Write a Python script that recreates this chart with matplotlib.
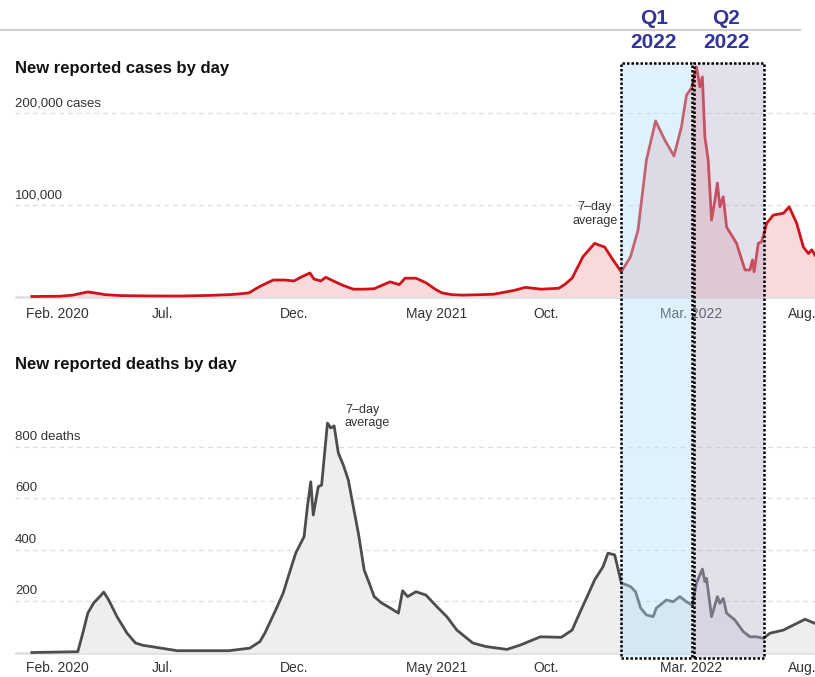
import numpy as np
import matplotlib
matplotlib.use("Agg")
import matplotlib.pyplot as plt
import matplotlib.dates as mdates
from matplotlib.patches import Rectangle
from matplotlib.lines import Line2D
from matplotlib.transforms import blended_transform_factory

plt.rcParams["font.family"] = ["Liberation Sans", "DejaVu Sans"]

# ---- data, days counted from 2020-02-01 ----
START = np.datetime64("2020-02-01")

case_days = [7, 41, 56, 74, 85, 95, 113, 150, 184, 220, 243, 255, 267, 280, 296,
             310, 321, 329, 340, 345, 353, 359, 368, 380, 392, 405, 417, 436, 447,
             454, 467, 479, 490, 498, 510, 523, 545, 560, 575, 586, 598, 617, 638,
             645, 654, 667, 681, 693, 703, 713, 724, 733, 743, 754, 765, 776, 785,
             791, 797, 803, 807, 810, 813, 817, 821, 825, 828, 831, 835, 839, 851,
             861, 867, 870, 872, 877, 881, 887, 895, 907, 914, 923, 931, 937, 941, 945]
case_vals = [0, 300, 1500, 5000, 3500, 2000, 1000, 600, 500, 1200, 2000, 2800, 4000,
             11000, 18000, 18000, 17000, 21000, 25700, 19000, 17000, 21000, 17000,
             12000, 8000, 8000, 8500, 16000, 13000, 20000, 20000, 15000, 8000, 4000,
             2000, 1500, 2000, 2500, 5000, 7000, 10000, 8000, 9000, 13000, 20000,
             43500, 58000, 54000, 40000, 27000, 43500, 72700, 149000, 191800, 171000,
             153600, 185600, 220000, 228000, 251000, 229000, 240000, 174600, 149000,
             83600, 105000, 124000, 98000, 109000, 76000, 58000, 29000, 29000, 40000,
             27000, 58000, 60000, 80000, 89000, 91000, 98000, 80000, 54000, 47000,
             51000, 45000]

death_days = [7, 62, 68, 74, 81, 90, 93, 99, 109, 121, 131, 140, 150, 181, 218, 243,
              268, 280, 286, 299, 308, 314, 323, 333, 337, 341, 344, 350, 354, 361,
              365, 369, 374, 380, 386, 392, 398, 405, 411, 417, 426, 436, 446, 451,
              457, 467, 479, 492, 504, 516, 535, 551, 576, 592, 616, 641, 654, 663,
              672, 681, 691, 697, 705, 713, 724, 730, 736, 743, 751, 755, 767, 775,
              783, 791, 798, 803, 810, 813, 815, 821, 828, 831, 835, 839, 849, 859,
              867, 875, 883, 891, 907, 923, 933, 945]
death_vals = [0, 3, 75, 153, 192, 223, 235, 204, 139, 75, 37, 28, 23, 7, 7, 7, 17,
              42, 75, 165, 231, 294, 386, 450, 566, 663, 534, 644, 650, 891, 872,
              880, 775, 728, 670, 566, 464, 320, 270, 217, 192, 173, 153, 240, 217,
              236, 223, 178, 139, 87, 37, 23, 12, 29, 61, 59, 87, 153, 217, 282, 333,
              386, 379, 270, 256, 236, 173, 146, 139, 173, 204, 197, 217, 197, 184,
              270, 324, 275, 288, 139, 217, 191, 210, 153, 126, 81, 61, 61, 55, 75,
              87, 113, 129, 113]

tick_dates = ["2020-02-01", "2020-07-01", "2020-12-01", "2021-05-01",
              "2021-10-01", "2022-03-01", "2022-08-01"]
tick_labels = ["Feb. 2020", "Jul.", "Dec.", "May 2021", "Oct.", "Mar. 2022", "Aug."]

case_grid = [100000, 200000]
case_grid_labels = ["100,000", "200,000 cases"]
death_grid = [200, 400, 600, 800]
death_grid_labels = ["200", "400", "600", "800 deaths"]

quarters = ["Q1\n2022", "Q2\n2022"]
quarter_spans = [("2022-01-14", "2022-04-09"), ("2022-04-11", "2022-07-04")]
quarter_fills = ["#b1def7", "#bbafcf"]

# ---- helpers ----
W, H = 815, 677
fig = plt.figure(figsize=(W / 100, H / 100), dpi=100)


def px_axes(left, top, right, bottom):
    return fig.add_axes([left / W, 1 - bottom / H, (right - left) / W, (bottom - top) / H])


def dnum(days):
    return mdates.date2num(START + np.array(days, dtype="timedelta64[D]"))


x0 = mdates.date2num(START)
xlim = (x0 - 13.2, x0 + 944.9)
ticks = mdates.date2num(np.array(tick_dates, dtype="datetime64[D]"))


def style(ax, ylim, grid, grid_labels, pad):
    ax.set_xlim(*xlim)
    ax.set_ylim(*ylim)
    for s in ax.spines.values():
        s.set_visible(False)
    ax.set_yticks([])
    ax.set_xticks(ticks)
    ax.set_xticklabels(tick_labels, ha="left", fontsize=10, color="#333333")
    ax.tick_params(axis="x", length=0, pad=pad)
    ax.patch.set_alpha(0)
    ax.axhline(0, color="#e2e2e2", lw=2, zorder=0.5)
    for g, lab in zip(grid, grid_labels):
        ax.axhline(g, color="#dedede", lw=0.9, ls=(0, (4, 3)), zorder=0.4)
        ax.annotate(lab, xy=(0, g), xycoords=("axes fraction", "data"),
                    xytext=(0, 7), textcoords="offset points",
                    va="center", ha="left", fontsize=9.5, color="#333333")


# ---- cases ----
ax1 = px_axes(15, 62, 815, 299)
xc = dnum(case_days)
ax1.fill_between(xc, 0, case_vals, color="#f8dada", lw=0, zorder=1)
ax1.plot(xc, case_vals, color="#d0121b", lw=2.0, zorder=2, solid_joinstyle="round")
style(ax1, (-2732, 256284), case_grid, case_grid_labels, 6)
ax1.text(dnum(681), 90000, "7–day\naverage", ha="center", va="center",
         fontsize=9, color="#333333", linespacing=1.15)

# ---- deaths ----
ax2 = px_axes(15, 400, 815, 655)
xd = dnum(death_days)
ax2.fill_between(xd, 0, death_vals, color="#eeeeee", lw=0, zorder=1)
ax2.plot(xd, death_vals, color="#4d4d4d", lw=2.0, zorder=2, solid_joinstyle="round")
style(ax2, (-9.7, 980.6), death_grid, death_grid_labels, 4.5)
ax2.text(dnum(382), 915, "7–day\naverage", ha="left", va="center",
         fontsize=9, color="#333333", linespacing=1.1)

# ---- titles and top rule ----
fig.add_artist(Line2D([0, 800 / W], [1 - 30 / H] * 2, color="#d0d0d0", lw=1.5))
fig.text(15 / W, 1 - 69 / H, "New reported cases by day", fontsize=12,
         fontweight="bold", color="#121212", va="center")
fig.text(15 / W, 1 - 365 / H, "New reported deaths by day", fontsize=12,
         fontweight="bold", color="#121212", va="center")

# ---- quarter boxes spanning both panels ----
trans = blended_transform_factory(ax1.transData, fig.transFigure)
y_bot, y_top = 1 - 658 / H, 1 - 63 / H
for label, (a, b), fc in zip(quarters, quarter_spans, quarter_fills):
    xa, xb = mdates.date2num(np.datetime64(a)), mdates.date2num(np.datetime64(b))
    fig.add_artist(Rectangle((xa, y_bot), xb - xa, y_top - y_bot, transform=trans,
                             facecolor=fc, edgecolor="none", alpha=0.4, zorder=5))
    fig.add_artist(Rectangle((xa, y_bot), xb - xa, y_top - y_bot, transform=trans,
                             facecolor="none", edgecolor="black", lw=1.8,
                             ls=(0, (1, 0.8)), zorder=6))
    xc_px = ax1.transData.transform(((xa + xb) / 2, 0))[0]
    q, yr = label.split("\n")
    fig.text(xc_px / W - 3 / W, 1 - 18 / H, q, ha="center", va="center", fontsize=15,
             fontweight="bold", color="#33339a")
    fig.text(xc_px / W - 3 / W, 1 - 43 / H, yr, ha="center", va="center", fontsize=15,
             fontweight="bold", color="#33339a")

fig.savefig("out.png", dpi=100)
